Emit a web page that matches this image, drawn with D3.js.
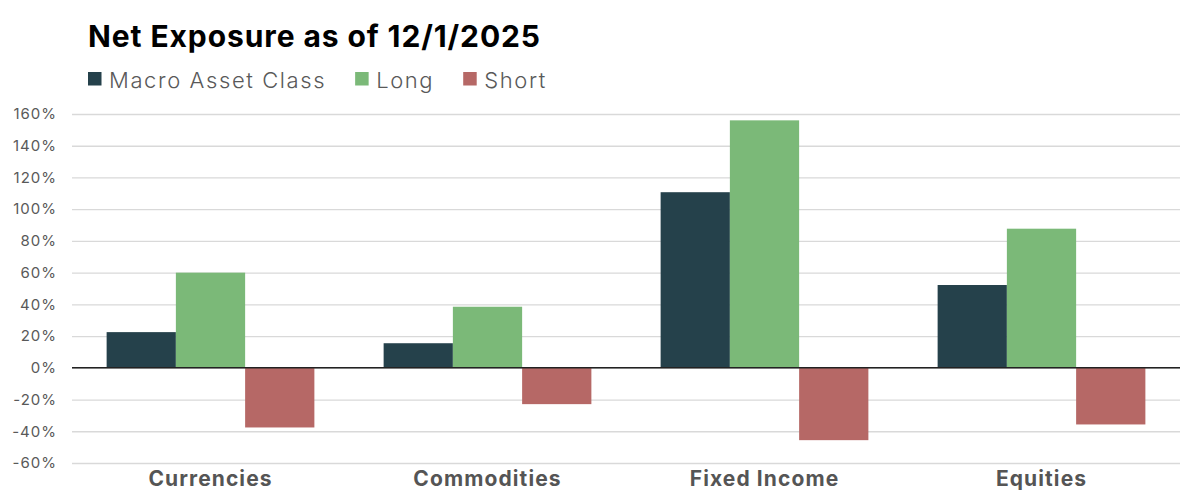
<!DOCTYPE html>
<html>
<head>
<meta charset="utf-8">
<script src="https://cdn.jsdelivr.net/npm/d3@7"></script>
<style>
  html, body { margin: 0; padding: 0; background: #ffffff; }
  svg { display: block; }
  text { font-family: Inter, "Open Sans", sans-serif; }
</style>
</head>
<body>
<svg id="chart" width="1200" height="493"></svg>
<script>
const categories = ["Currencies", "Commodities", "Fixed Income", "Equities"];
const seriesNames = ["Macro Asset Class", "Long", "Short"];
const macroValues = [22.5, 15.5, 110.7, 52.2];
const longValues = [60.0, 38.5, 156.0, 87.7];
const shortValues = [-37.6, -22.9, -45.6, -35.7];
const yTickValues = [-60, -40, -20, 0, 20, 40, 60, 80, 100, 120, 140, 160];
const titleText = "Net Exposure as of 12/1/2025";

const seriesValues = [macroValues, longValues, shortValues];
const colors = ["#25414B", "#7BB978", "#B66866"];

const W = 1200, H = 493;
const margin = { top: 114, right: 20, bottom: 30, left: 72 };
const svg = d3.select("#chart");

const x0 = d3.scaleBand().domain(categories).range([margin.left, W - margin.right]).padding(0);
const x1 = d3.scaleBand().domain(seriesNames).range([0, x0.bandwidth()]).paddingInner(0).paddingOuter(0.5);
const y = d3.scaleLinear().domain([-60, 160]).range([463, margin.top]);

// gridlines
const yAxisGrid = d3.axisLeft(y).tickValues(yTickValues)
  .tickSize(-(W - margin.right - margin.left)).tickFormat("");
const grid = svg.append("g").attr("transform", `translate(${margin.left},0)`).call(yAxisGrid);
grid.select(".domain").remove();
grid.selectAll("line").attr("stroke", "#d9d9d9").attr("stroke-width", 1.3);

// y labels
const yAxis = d3.axisLeft(y).tickValues(yTickValues).tickSize(0).tickPadding(0)
  .tickFormat(d => d + "%");
const ya = svg.append("g").attr("transform", `translate(57,0)`).call(yAxis);
ya.select(".domain").remove();
ya.selectAll("text").attr("fill", "#595959").attr("font-size", 15)
  .attr("font-weight", 400).attr("letter-spacing", "1px")
  .attr("font-family", "Inter, 'Open Sans', sans-serif");

// bars
const rows = categories.map((c, i) => ({ cat: c, vals: seriesNames.map((s, j) => ({ s, j, v: seriesValues[j][i] })) }));
const g = svg.append("g").selectAll("g").data(rows).join("g")
  .attr("transform", d => `translate(${x0(d.cat)},0)`);
g.selectAll("rect").data(d => d.vals).join("rect")
  .attr("x", d => x1(d.s))
  .attr("width", x1.bandwidth())
  .attr("y", d => y(Math.max(0, d.v)))
  .attr("height", d => Math.abs(y(d.v) - y(0)))
  .attr("fill", d => colors[d.j]);

// zero line
svg.append("line").attr("x1", margin.left).attr("x2", W - margin.right)
  .attr("y1", y(0)).attr("y2", y(0)).attr("stroke", "#222").attr("stroke-width", 1.5);

// x labels
const xAxis = d3.axisBottom(x0).tickSize(0).tickPadding(0);
const xa = svg.append("g").attr("transform", `translate(0,486)`).call(xAxis);
xa.select(".domain").remove();
xa.selectAll("text").attr("dy", 0).attr("fill", "#555555").attr("font-size", 21)
  .attr("font-weight", 700).attr("letter-spacing", "1.1px")
  .attr("font-family", "Inter, 'Open Sans', sans-serif");

// title
svg.append("text").attr("x", 88).attr("y", 47).text(titleText)
  .attr("font-size", 30).attr("font-weight", 700).attr("letter-spacing", "0.9px").attr("fill", "#000");

// legend
let lx = 88;
const leg = svg.append("g");
seriesNames.forEach((s, j) => {
  leg.append("rect").attr("x", lx).attr("y", 72).attr("width", 13.5).attr("height", 13.5).attr("fill", colors[j]);
  const t = leg.append("text").attr("x", lx + 21).attr("y", 87.5).text(s)
    .attr("font-size", 22).attr("font-weight", 300).attr("letter-spacing", "1.6px").attr("fill", "#595959");
  lx += 21 + t.node().getComputedTextLength() + 29;
});
</script>
</body>
</html>
